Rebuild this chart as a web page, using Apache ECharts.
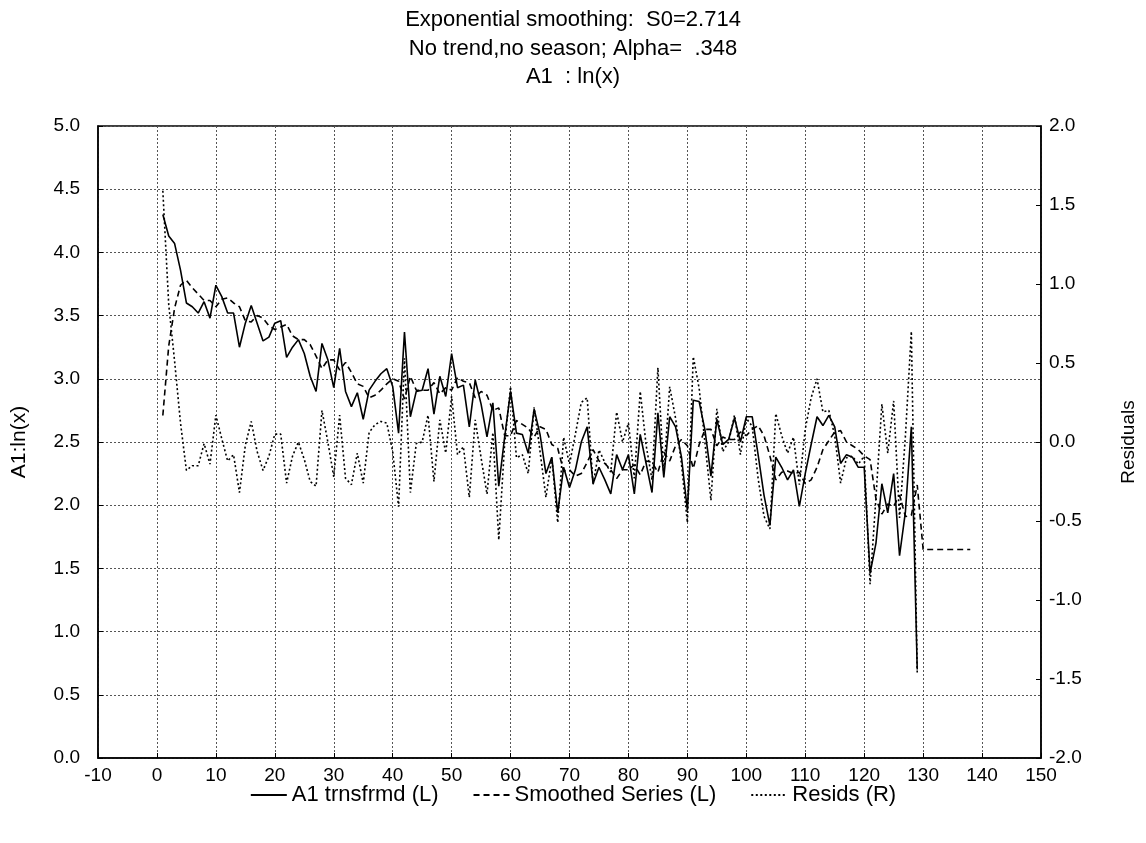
<!DOCTYPE html>
<html>
<head>
<meta charset="utf-8">
<script src="https://cdn.jsdelivr.net/npm/echarts@6/dist/echarts.min.js"></script>
<style>
html,body{margin:0;padding:0;background:#fff;}
#chart{width:1146px;height:843px;}
</style>
</head>
<body>
<div id="chart"></div>
<script>
// A1 transformed series ln(x), t = 1..129
var a1 = [4.30,4.13,4.07,3.86,3.60,3.57,3.52,3.61,3.48,3.74,
3.65,3.52,3.52,3.25,3.44,3.58,3.44,3.30,3.33,3.44,
3.46,3.17,3.25,3.31,3.20,3.02,2.90,3.28,3.15,2.93,
3.24,2.90,2.78,2.89,2.68,2.91,2.98,3.04,3.08,2.94,
2.57,3.37,2.70,2.90,2.91,3.08,2.72,3.02,2.86,3.20,
2.93,2.95,2.62,2.99,2.80,2.54,2.81,2.15,2.54,2.90,
2.57,2.56,2.41,2.76,2.56,2.25,2.38,1.94,2.30,2.14,
2.28,2.50,2.62,2.17,2.30,2.20,2.09,2.40,2.28,2.40,
2.09,2.56,2.33,2.10,2.73,2.22,2.70,2.62,2.38,1.96,
2.83,2.82,2.59,2.23,2.68,2.48,2.52,2.69,2.50,2.70,
2.70,2.40,2.08,1.84,2.38,2.30,2.20,2.28,1.99,2.25,
2.48,2.70,2.63,2.71,2.62,2.33,2.40,2.38,2.30,2.30,
1.46,1.70,2.17,1.94,2.25,1.60,1.95,2.62,0.70];

// Smoothed series, t = 1..138 (forecast flat after 129)
var smoothed = [2.71,3.26,3.56,3.74,3.78,3.72,3.67,3.62,3.62,3.57,
3.63,3.64,3.60,3.57,3.46,3.45,3.50,3.48,3.42,3.39,
3.41,3.43,3.34,3.31,3.31,3.27,3.18,3.08,3.15,3.15,
3.07,3.13,3.05,2.96,2.94,2.85,2.87,2.91,2.96,3.00,
2.98,2.84,3.02,2.91,2.91,2.91,2.97,2.88,2.93,2.91,
3.01,2.98,2.97,2.85,2.90,2.87,2.75,2.77,2.55,2.55,
2.67,2.64,2.61,2.54,2.62,2.60,2.48,2.45,2.27,2.28,
2.23,2.25,2.34,2.44,2.35,2.33,2.28,2.21,2.28,2.28,
2.32,2.24,2.35,2.34,2.26,2.42,2.35,2.47,2.52,2.47,
2.29,2.48,2.60,2.60,2.47,2.54,2.52,2.52,2.58,2.55,
2.60,2.63,2.55,2.39,2.20,2.26,2.27,2.25,2.26,2.17,
2.20,2.30,2.44,2.51,2.58,2.59,2.50,2.47,2.44,2.39,
2.36,2.05,1.93,2.01,1.99,2.08,1.91,1.92,2.16,1.65,
1.65,1.65,1.65,1.65,1.65,1.65,1.65,1.65];

// Residuals (right axis), t = 1..129
var resids = [1.59,0.87,0.51,0.12,-0.18,-0.15,-0.15,-0.01,-0.14,0.17,
0.02,-0.12,-0.08,-0.32,-0.02,0.13,-0.06,-0.18,-0.09,0.05,
0.05,-0.26,-0.09,0.00,-0.11,-0.25,-0.28,0.20,0.00,-0.22,
0.17,-0.23,-0.27,-0.07,-0.26,0.06,0.11,0.13,0.12,-0.06,
-0.41,0.53,-0.32,-0.01,0.00,0.17,-0.25,0.14,-0.07,0.29,
-0.08,-0.03,-0.35,0.14,-0.10,-0.33,0.06,-0.62,-0.01,0.35,
-0.10,-0.08,-0.20,0.22,-0.06,-0.35,-0.10,-0.51,0.03,-0.14,
0.05,0.25,0.28,-0.27,-0.05,-0.13,-0.19,0.19,0.00,0.12,
-0.23,0.32,-0.02,-0.24,0.47,-0.20,0.35,0.15,-0.14,-0.51,
0.54,0.34,-0.01,-0.37,0.21,-0.06,0.00,0.17,-0.08,0.15,
0.10,-0.23,-0.47,-0.55,0.18,0.04,-0.07,0.03,-0.27,0.08,
0.28,0.40,0.19,0.20,0.04,-0.26,-0.10,-0.09,-0.14,-0.09,
-0.90,-0.35,0.24,-0.07,0.26,-0.48,0.04,0.70,-1.46];

var titleLines = ['Exponential smoothing:  S0=2.714', 'No trend,no season; Alpha=  .348', 'A1  : ln(x)'];
var seriesNames = ['A1 trnsfrmd (L)', 'Smoothed Series (L)', 'Resids (R)'];
var leftAxisName = 'A1:ln(x)';
var rightAxisName = 'Residuals';

function pairs(arr) { return arr.map(function (v, i) { return [i + 1, v]; }); }

var FONT = 'Liberation Sans';
var chart = echarts.init(document.getElementById('chart'), null, {renderer: 'canvas'});
chart.setOption({
  animation: false,
  backgroundColor: '#fff',
  textStyle: {fontFamily: FONT, color: '#000'},
  title: {
    text: titleLines.join('\n'),
    left: 'center',
    top: 1,
    textStyle: {fontFamily: FONT, fontSize: 22, fontWeight: 'normal', color: '#000', lineHeight: 28.5}
  },
  legend: {
    bottom: 32,
    left: 'center',
    itemWidth: 36,
    itemHeight: 12,
    itemGap: 34,
    itemStyle: {opacity: 0},
    textStyle: {fontFamily: FONT, fontSize: 22, color: '#000'},
    data: seriesNames
  },
  grid: {left: 98, right: 102, top: 126, bottom: 85, show: true, borderColor: '#000', borderWidth: 1.5, backgroundColor: 'transparent'},
  xAxis: {
    type: 'value', min: -10, max: 150, interval: 10,
    axisLine: {show: true, onZero: false, lineStyle: {color: '#000', width: 1.5}},
    axisTick: {show: true, inside: true, length: 5, lineStyle: {color: '#000'}},
    axisLabel: {fontFamily: FONT, fontSize: 19, color: '#000', margin: 8},
    splitLine: {show: true, lineStyle: {type: [2, 2], color: '#555', width: 1}}
  },
  yAxis: [{
    type: 'value', min: 0, max: 5, interval: 0.5, position: 'left',
    name: leftAxisName, nameLocation: 'middle', nameGap: 68, nameRotate: 90,
    nameTextStyle: {fontFamily: FONT, fontSize: 21, color: '#000'},
    axisLine: {show: true, onZero: false, lineStyle: {color: '#000', width: 1.5}},
    axisTick: {show: true, inside: true, length: 5, lineStyle: {color: '#000'}},
    axisLabel: {fontFamily: FONT, fontSize: 19, color: '#000', margin: 18, formatter: function (v) { return v.toFixed(1); }},
    splitLine: {show: true, lineStyle: {type: [2, 2], color: '#555', width: 1}}
  }, {
    type: 'value', min: -2, max: 2, interval: 0.5, position: 'right',
    name: rightAxisName, nameLocation: 'middle', nameGap: 78, nameRotate: 90,
    nameTextStyle: {fontFamily: FONT, fontSize: 19, color: '#000'},
    axisLine: {show: true, onZero: false, lineStyle: {color: '#000', width: 1.5}},
    axisTick: {show: true, inside: true, length: 5, lineStyle: {color: '#000'}},
    axisLabel: {fontFamily: FONT, fontSize: 19, color: '#000', margin: 8, formatter: function (v) { return v.toFixed(1); }},
    splitLine: {show: false}
  }],
  series: [{
    name: seriesNames[0], type: 'line', yAxisIndex: 0, data: pairs(a1),
    symbol: 'none', lineStyle: {color: '#000', width: 1.6, type: 'solid'}, itemStyle: {color: '#000'}
  }, {
    name: seriesNames[1], type: 'line', yAxisIndex: 0, data: pairs(smoothed),
    symbol: 'none', lineStyle: {color: '#000', width: 1.6, type: [6, 4]}, itemStyle: {color: '#000'}
  }, {
    name: seriesNames[2], type: 'line', yAxisIndex: 1, data: pairs(resids),
    symbol: 'none', lineStyle: {color: '#000', width: 1.6, type: [2, 2.5]}, itemStyle: {color: '#000'}
  }]
});
</script>
</body>
</html>
